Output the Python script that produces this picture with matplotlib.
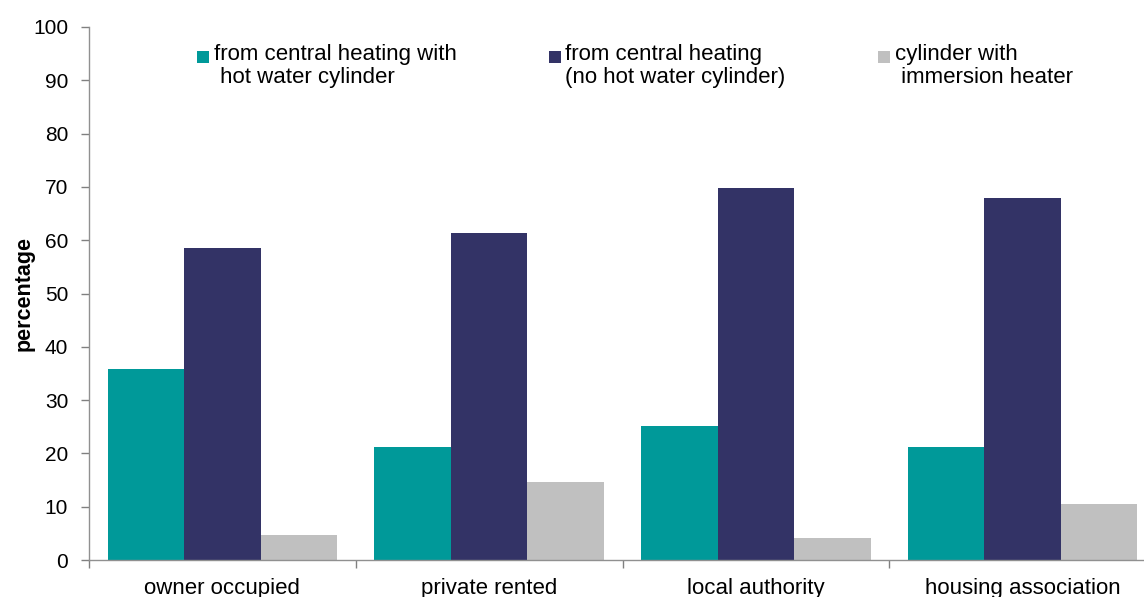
import matplotlib
matplotlib.use("Agg")
import matplotlib.pyplot as plt
from matplotlib.patches import Rectangle
from matplotlib.container import BarContainer
from matplotlib.legend_handler import HandlerPatch, update_from_first_child
import numpy as np

plt.rcParams['font.family'] = ['Liberation Sans', 'DejaVu Sans']

categories = ["owner occupied", "private rented", "local authority", "housing association"]
series_names = ["from central heating with\n hot water cylinder",
                "from central heating\n(no hot water cylinder)",
                "cylinder with\n immersion heater"]
central_with_cyl = [35.8, 21.2, 25.1, 21.2]
central_no_cyl = [58.5, 61.3, 69.8, 67.9]
immersion = [4.7, 14.6, 4.1, 10.5]
colors = ["#009999", "#333366", "#C0C0C0"]
yticks = list(range(0, 101, 10))

fig = plt.figure(figsize=(11.44, 5.97), dpi=100)
ax = fig.add_axes([89/1144, 1-560/597, 1067/1144, 533/597])

x = np.arange(len(categories))
w = 0.287
for i, (vals, name, c) in enumerate(zip([central_with_cyl, central_no_cyl, immersion], series_names, colors)):
    ax.bar(x + (i - 1) * w, vals, width=w, color=c, label=name, edgecolor='none')

ax.set_xlim(-0.5, len(categories) - 0.5)
ax.set_ylim(0, 100)
ax.set_yticks(yticks)
ax.set_yticklabels([str(t) for t in yticks], fontsize=15)
ax.set_xticks(x)
ax.set_xticklabels(categories, fontsize=16)
ax.tick_params(axis='x', length=0, pad=13)
ax.set_xticks(np.arange(len(categories) + 1) - 0.5, minor=True)
ax.tick_params(axis='x', which='minor', length=6, color='#808080', width=1)
ax.tick_params(axis='y', length=6, color='#808080', width=1, pad=9)
for s in ['top', 'right']:
    ax.spines[s].set_visible(False)
for s in ['left', 'bottom']:
    ax.spines[s].set_color('#909090')
    ax.spines[s].set_linewidth(1)
ax.set_ylabel("percentage", fontsize=15.5, fontweight='bold', labelpad=-1)


def top_square(legend, orig_handle, xdescent, ydescent, width, height, fontsize):
    s = width
    return Rectangle((-xdescent, -ydescent + height - s - 0.12 * fontsize), s, s)


leg = ax.legend(ncol=3, loc='upper left', bbox_to_anchor=((197 - 89) / 1067, 1 - (44 - 27) / 533),
                frameon=False, fontsize=16, handlelength=0.55, handleheight=2.2,
                handletextpad=0.2, columnspacing=4.15, borderaxespad=0, borderpad=0,
                handler_map={BarContainer: HandlerPatch(patch_func=top_square,
                                                        update_func=update_from_first_child)})
for t in leg.get_texts():
    t.set_linespacing(1.1)

fig.savefig("out.png", dpi=100)
